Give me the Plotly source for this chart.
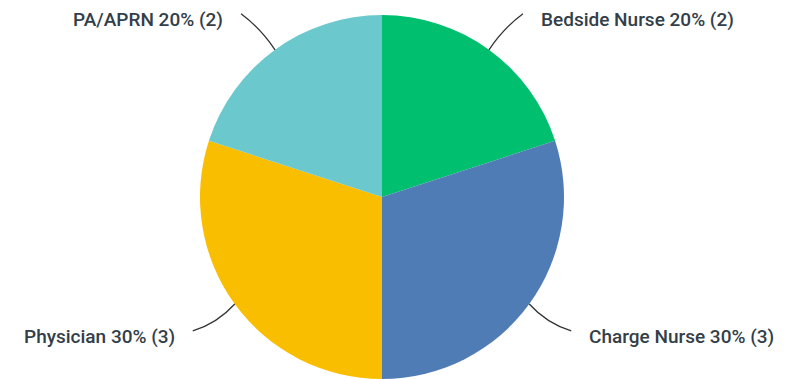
import math
import plotly.graph_objects as go

categories = ["Bedside Nurse", "Charge Nurse", "Physician", "PA/APRN"]
counts = [2, 3, 3, 2]
colors = ["#00BF6F", "#507CB6", "#F9BE00", "#6BC8CD"]

W, H = 796, 379
cx_px, cy_px, r_px = 382, 197, 182

dom_x = [(cx_px - r_px) / W, (cx_px + r_px) / W]
dom_y = [1 - (cy_px + r_px) / H, 1 - (cy_px - r_px) / H]

fig = go.Figure(go.Pie(
    labels=categories, values=counts, sort=False, direction="clockwise",
    rotation=0, marker=dict(colors=colors, line=dict(width=0)),
    textinfo="none", hoverinfo="label+percent+value", showlegend=False,
    domain=dict(x=dom_x, y=dom_y),
))

total = sum(counts)
shapes, annotations = [], []
cum = 0
for cat, v in zip(categories, counts):
    mid = (cum + v / 2) / total * 2 * math.pi
    cum += v
    sx, sy = math.sin(mid), -math.cos(mid)
    side = 1 if sx > 0 else -1
    x0, y0 = cx_px + r_px * sx, cy_px + r_px * sy
    if sy < 0:
        x1, y1 = x0 + side * 34, y0 - 36
        xc, yc = x0 + side * 15, y0 - 22
    else:
        x1, y1 = x0 + side * 42, y0 + 27
        xc, yc = x0 + side * 17, y0 + 19
    P = lambda x, y: f"{x / W:.5f} {1 - y / H:.5f}"
    shapes.append(dict(type="path", xref="paper", yref="paper",
                       path=f"M {P(x0, y0)} Q {P(xc, yc)} {P(x1, y1)}",
                       line=dict(color="#333333", width=1.3)))
    pct = round(v / total * 100)
    annotations.append(dict(
        xref="paper", yref="paper", x=(x1 + side * 16) / W, y=1 - (y1 + 6) / H,
        xanchor="left" if side > 0 else "right", yanchor="middle",
        text=f"{cat} {pct}% ({v})", showarrow=False,
        font=dict(family="Roboto", size=19, color="#333e48", weight=500),
    ))

fig.update_layout(
    width=W, height=H, margin=dict(l=0, r=0, t=0, b=0),
    paper_bgcolor="white", plot_bgcolor="white",
    shapes=shapes, annotations=annotations,
)
fig.write_html("out.html", config={"displayModeBar": False},
               post_script="document.body.style.margin='0';document.body.style.overflow='hidden';")
